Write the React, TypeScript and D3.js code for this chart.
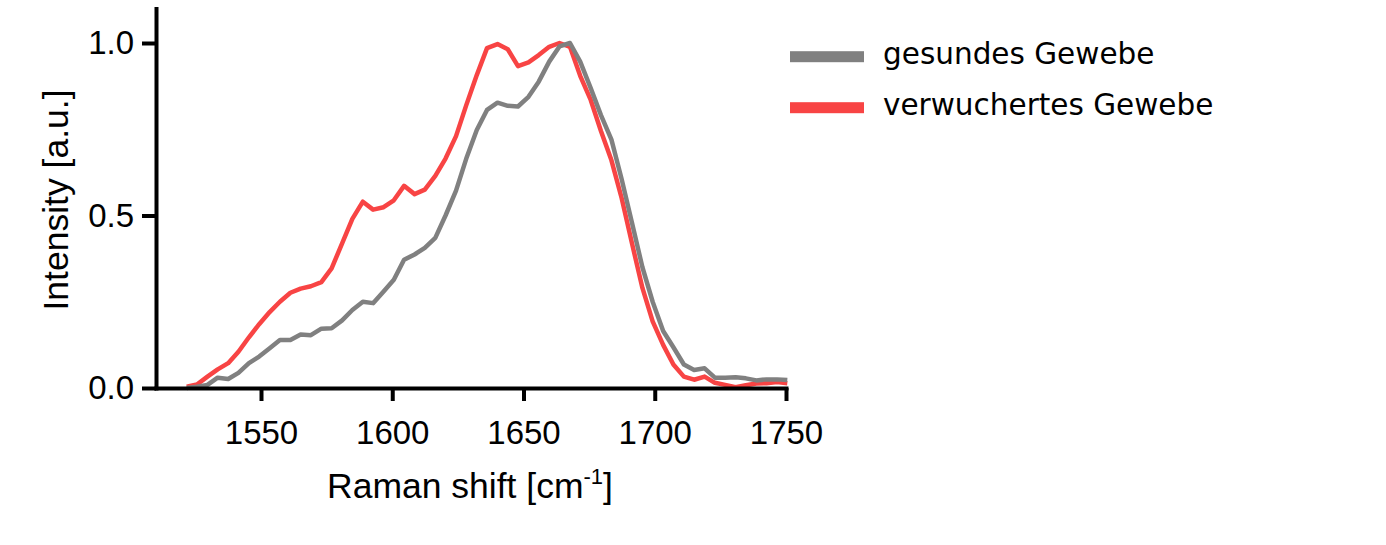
import React, { useEffect, useRef } from "react";
import * as d3 from "d3";

// Raman shift positions (cm-1)
const shifts = [
  1521.7, 1525.6, 1529.6, 1533.5, 1537.5, 1541.4, 1545.4, 1549.3, 1553.3, 1557.2,
  1561.2, 1565.1, 1569.0, 1573.0, 1576.9, 1580.9, 1584.8, 1588.8, 1592.7, 1596.7,
  1600.6, 1604.5, 1608.5, 1612.4, 1616.4, 1620.3, 1624.3, 1628.2, 1632.2, 1636.1,
  1640.1, 1644.0, 1647.9, 1651.9, 1655.8, 1659.8, 1663.7, 1667.7, 1671.6, 1675.6,
  1679.5, 1683.5, 1687.4, 1691.3, 1695.3, 1699.2, 1703.2, 1707.1, 1711.1, 1715.0,
  1719.0, 1722.9, 1726.8, 1730.8, 1734.7, 1738.7, 1742.6, 1746.6, 1750.5,
];

// gesundes Gewebe
const healthy = [
  0.000, 0.004, 0.009, 0.030, 0.026, 0.044, 0.072, 0.091, 0.115, 0.139,
  0.139, 0.155, 0.153, 0.172, 0.173, 0.196, 0.226, 0.250, 0.246, 0.280,
  0.314, 0.372, 0.387, 0.406, 0.435, 0.500, 0.572, 0.665, 0.748, 0.806,
  0.827, 0.818, 0.816, 0.844, 0.888, 0.946, 0.990, 1.000, 0.946, 0.869,
  0.791, 0.720, 0.605, 0.480, 0.350, 0.250, 0.165, 0.118, 0.068, 0.052,
  0.057, 0.030, 0.030, 0.031, 0.028, 0.022, 0.025, 0.025, 0.023,
];

// verwuchertes Gewebe
const tumor = [
  0.004, 0.010, 0.033, 0.054, 0.072, 0.105, 0.147, 0.185, 0.220, 0.250,
  0.276, 0.288, 0.295, 0.307, 0.347, 0.419, 0.490, 0.540, 0.517, 0.524,
  0.544, 0.586, 0.562, 0.575, 0.615, 0.665, 0.730, 0.820, 0.907, 0.985,
  0.997, 0.982, 0.933, 0.944, 0.965, 0.989, 1.000, 0.989, 0.905, 0.835,
  0.745, 0.660, 0.550, 0.420, 0.290, 0.193, 0.125, 0.068, 0.033, 0.024,
  0.033, 0.015, 0.009, 0.002, 0.008, 0.013, 0.014, 0.017, 0.014,
];

const xTicks = [1550, 1600, 1650, 1700, 1750];
const yTicks = [0, 0.5, 1.0];

const seriesNames = ["gesundes Gewebe", "verwuchertes Gewebe"];
const seriesColors = ["#808080", "#f84444"];

const App: React.FC = () => {
  const svgRef = useRef<SVGSVGElement | null>(null);

  useEffect(() => {
    const svg = d3.select(svgRef.current);
    svg.selectAll("*").remove();

    const x = d3.scaleLinear().domain([1510, 1750]).range([156, 786]);
    const y = d3.scaleLinear().domain([0, 1.1]).range([388, 8.5]);

    const font = "'Liberation Sans', Arial, sans-serif";

    const line = d3
      .line<number>()
      .x((_, i) => x(shifts[i]))
      .y((d) => y(d));

    // curves (red underneath, grey on top)
    [tumor, healthy].forEach((vals, k) => {
      svg
        .append("path")
        .datum(vals)
        .attr("fill", "none")
        .attr("stroke", k === 0 ? seriesColors[1] : seriesColors[0])
        .attr("stroke-width", 4.5)
        .attr("stroke-linejoin", "round")
        .attr("d", line);
    });

    // y axis
    const gy = svg
      .append("g")
      .attr("transform", `translate(${x(1510)},0)`)
      .call(
        d3
          .axisLeft(y)
          .tickValues(yTicks)
          .tickFormat(d3.format(".1f"))
          .tickSize(14)
          .tickSizeOuter(0)
          .tickPadding(8)
      );

    // x axis
    const gx = svg
      .append("g")
      .attr("transform", `translate(0,${y(0)})`)
      .call(
        d3
          .axisBottom(x)
          .tickValues(xTicks)
          .tickFormat(d3.format("d"))
          .tickSize(13)
          .tickSizeOuter(0)
          .tickPadding(20)
      );

    [gx, gy].forEach((g) => {
      g.select(".domain")
        .attr("stroke", "#000")
        .attr("stroke-width", 4)
        .attr("stroke-linecap", "square");
      g.selectAll(".tick line").attr("stroke", "#000").attr("stroke-width", 4);
      g.selectAll(".tick text")
        .attr("fill", "#000")
        .style("font-family", font)
        .style("font-size", "33px");
    });

    // axis titles
    svg
      .append("text")
      .attr("transform", "translate(68,200) rotate(-90)")
      .attr("text-anchor", "middle")
      .style("font-family", font)
      .style("font-size", "35.5px")
      .text("Intensity [a.u.]");

    const xt = svg
      .append("text")
      .attr("x", 470)
      .attr("y", 498)
      .attr("text-anchor", "middle")
      .style("font-family", font)
      .style("font-size", "35.5px");
    xt.append("tspan").text("Raman shift [cm");
    xt.append("tspan").attr("dy", -14).style("font-size", "22px").text("-1");
    xt.append("tspan").attr("dy", 14).text("]");

    // legend
    const legend = svg.append("g");
    seriesNames.forEach((name, i) => {
      const cy = 56.7 + i * 51;
      legend
        .append("rect")
        .attr("x", 790)
        .attr("y", cy - 5.5)
        .attr("width", 74)
        .attr("height", 11)
        .attr("fill", seriesColors[i]);
      legend
        .append("text")
        .attr("x", 883)
        .attr("y", cy + 6.8)
        .style("font-family", "'DejaVu Sans', sans-serif")
        .style("font-size", "29.5px")
        .attr("fill", "#000")
        .text(name);
    });
  }, []);

  return (
    <svg
      ref={svgRef}
      width={1386}
      height={545}
      style={{ position: "absolute", left: 0, top: 0, background: "#fff" }}
    />
  );
};

export default App;
